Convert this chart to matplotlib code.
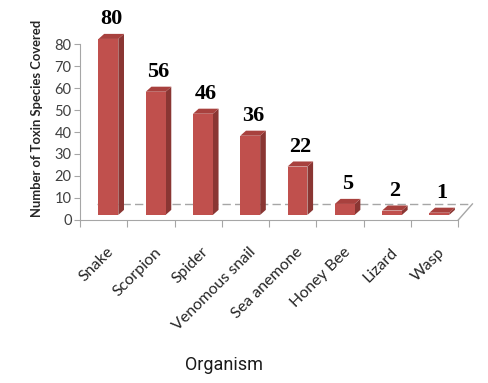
# Grafico a colonne 3D: specie di tossine per organismo
import matplotlib
matplotlib.use('Agg')
import numpy as np
import matplotlib.pyplot as plt
import matplotlib.transforms as mtrans
from matplotlib.patches import Polygon

# Organismi e numero di specie
organismi = ['Snake', 'Scorpion', 'Spider', 'Venomous snail', 'Sea anemone',
             'Honey Bee', 'Lizard', 'Wasp']
valori = [80, 56, 46, 36, 22, 5, 2, 1]

fronte = '#c0504d'
lato = '#8a3633'
cima = '#a8413e'

fig = plt.figure(figsize=(4.88, 3.83), dpi=100)
ax = fig.add_axes([0.164, 0.4256, 0.775, 0.4595])
ax.set_xlim(-0.5, 7.5)
ax.set_ylim(0, 80)

# Profondita' 3D in unita' dati
dx, dy = 0.12, 2.3
base = 2.3
larg = 0.42
off = 0.1

# Pavimento
ax.add_patch(Polygon([(-0.5, 0), (7.5, 0), (7.8, 7.3), (-0.2, 7.3)],
                     closed=True, facecolor='white', edgecolor='none',
                     zorder=0, clip_on=False))
ax.plot([-0.15, 7.8], [7.3, 7.3], color='#a6a6a6', lw=1, ls=(0, (6, 3)),
        zorder=1, clip_on=False)
ax.plot([7.5, 7.8], [0, 7.3], color='#a6a6a6', lw=1, zorder=1, clip_on=False)

x = np.arange(len(valori))
for i, v in enumerate(valori):
    x0 = i + off - larg / 2
    x1 = i + off + larg / 2
    t = base + v
    ax.add_patch(Polygon([(x1, base), (x1 + dx, base + dy), (x1 + dx, t + dy), (x1, t)],
                         closed=True, facecolor=lato, edgecolor='none',
                         zorder=2, clip_on=False))
    ax.add_patch(Polygon([(x0, t), (x1, t), (x1 + dx, t + dy), (x0 + dx, t + dy)],
                         closed=True, facecolor=cima, edgecolor='none',
                         zorder=2, clip_on=False))
ax.bar(x + off, valori, width=larg, bottom=base, color=fronte,
       zorder=3, clip_on=False)

for i, v in enumerate(valori):
    ax.text(i + off + dx / 2, base + v + dy + 2.0, str(v), ha='center',
            va='bottom', fontsize=16, fontweight='bold',
            family='Liberation Serif', zorder=4)

ax.set_xticks(np.arange(-0.5, 8.0, 1.0))
ax.set_xticklabels([])
ax.set_xticks(x, minor=True)
ax.set_xticklabels(organismi, minor=True, rotation=45, ha='right',
                   rotation_mode='anchor', fontsize=11.5, family='Lato',
                   color='#262626')
ax.tick_params(axis='x', which='minor', length=0, pad=18)
ax.tick_params(axis='x', which='major', length=5, color='#a6a6a6')
sposta = mtrans.ScaledTranslation(0.03, 0, fig.dpi_scale_trans)
for lab in ax.get_xticklabels(minor=True):
    lab.set_transform(lab.get_transform() + sposta)

ax.set_yticks(range(0, 81, 10))
ax.tick_params(axis='y', length=4, color='#a6a6a6', labelsize=10.5,
               labelcolor='#404040', pad=2)
for lab in ax.get_yticklabels():
    lab.set_family('Lato')

for s in ['top', 'right']:
    ax.spines[s].set_visible(False)
for s in ['left', 'bottom']:
    ax.spines[s].set_color('#a6a6a6')

fig.text(0.075, 0.69, 'Number of Toxin Species Covered', rotation=90,
         ha='center', va='center', fontsize=9.4, fontweight='bold',
         family='Lato', color='#262626')
fig.text(0.459, 0.047, 'Organism', ha='center', va='center', fontsize=13,
         family=['Liberation Sans Narrow', 'Roboto'], color='#1a1a1a')

fig.savefig('out.png', dpi=100)
